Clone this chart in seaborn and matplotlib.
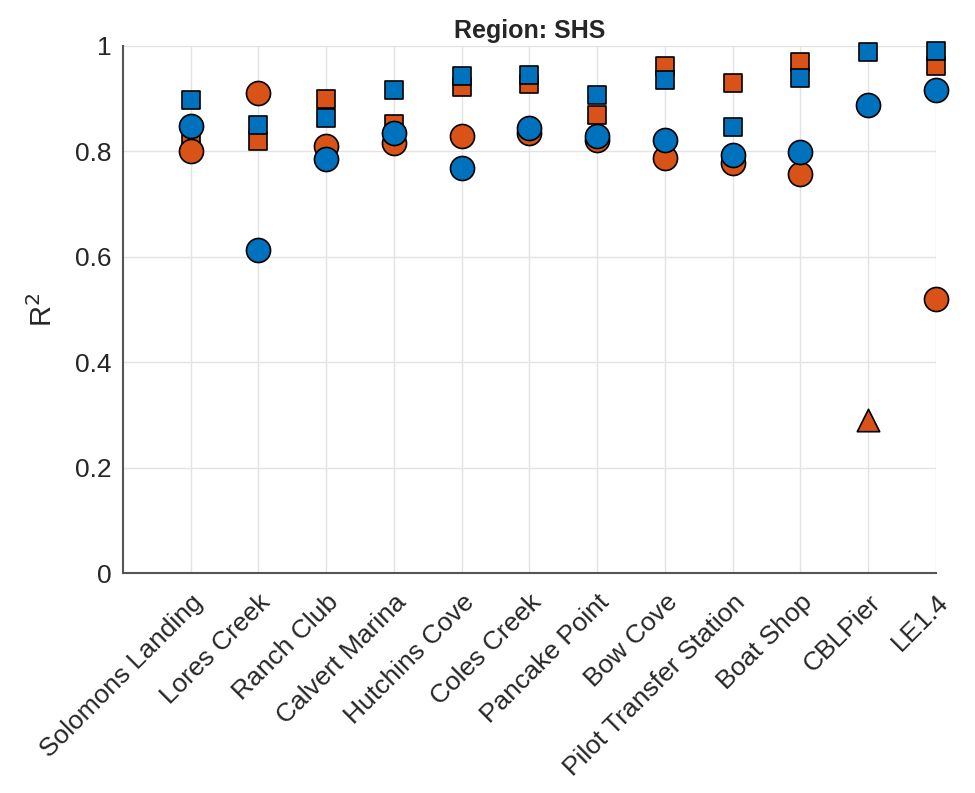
import pandas as pd
import numpy as np
import matplotlib
matplotlib.use("Agg")
import matplotlib.pyplot as plt
import seaborn as sns

sites = ["Solomons Landing", "Lores Creek", "Ranch Club", "Calvert Marina",
         "Hutchins Cove", "Coles Creek", "Pancake Point", "Bow Cove",
         "Pilot Transfer Station", "Boat Shop", "CBLPier", "LE1.4"]

orange_sq = [0.831, 0.820, 0.900, 0.853, 0.922, 0.928, 0.869, 0.962, 0.930, 0.970, np.nan, 0.962]
blue_sq = [0.897, 0.850, 0.863, 0.917, 0.943, 0.945, 0.907, 0.935, 0.846, 0.939, 0.989, 0.990]
orange_ci = [0.800, 0.911, 0.810, 0.816, 0.829, 0.835, 0.822, 0.787, 0.778, 0.757, np.nan, 0.520]
blue_ci = [0.848, 0.613, 0.786, 0.835, 0.768, 0.844, 0.829, 0.822, 0.793, 0.799, 0.888, 0.917]
orange_tri = [np.nan] * 10 + [0.290, np.nan]

ORANGE = "#D95319"
BLUE = "#0072BD"

sns.set_style("white")
plt.rcParams['font.family'] = ['Liberation Sans', 'DejaVu Sans']

df = pd.DataFrame({"site": sites, "osq": orange_sq, "bsq": blue_sq,
                   "oci": orange_ci, "bci": blue_ci, "otri": orange_tri})
df["pos"] = np.arange(1, len(sites) + 1)

fig = plt.figure(figsize=(9.75, 7.93), dpi=100)
ax = fig.add_axes([0.126, 0.277, 0.834, 0.665])

layers = [("osq", ORANGE, "s", 150), ("bsq", BLUE, "s", 150),
          ("oci", ORANGE, "o", 300), ("bci", BLUE, "o", 300),
          ("otri", ORANGE, "^", 260)]
for i, (col, c, m, s) in enumerate(layers):
    sub = df.dropna(subset=[col])
    sns.scatterplot(data=sub, x="pos", y=col, ax=ax, color=c, marker=m, s=s,
                    edgecolor="black", linewidth=1.2, zorder=3 + i, legend=False,
                    clip_on=False)

ax.set_xlim(0, 12)
ax.set_ylim(0, 1)
ax.set_xticks(df["pos"])
ax.set_xticklabels(sites, rotation=45, ha="right", rotation_mode="anchor")
ax.set_yticks([0, 0.2, 0.4, 0.6, 0.8, 1])
ax.set_yticklabels(["0", "0.2", "0.4", "0.6", "0.8", "1"])
ax.grid(True, color="#e3e3e3", linewidth=1)
ax.set_axisbelow(True)
for sp in ["top", "right"]:
    ax.spines[sp].set_visible(False)
for sp in ["left", "bottom"]:
    ax.spines[sp].set_color("#555555")
    ax.spines[sp].set_linewidth(1.5)
ax.tick_params(axis="both", direction="in", length=6, width=1.2, color="#333333",
               labelsize=19, labelcolor="#262626", pad=8)
ax.tick_params(axis="x", pad=12)
ax.set_xlabel("")
ax.set_ylabel("R$^2$", fontsize=21, color="#262626", labelpad=12)
ax.set_title("Region: SHS", fontsize=18, fontweight="bold", pad=6)

fig.savefig("out.png", dpi=100)
